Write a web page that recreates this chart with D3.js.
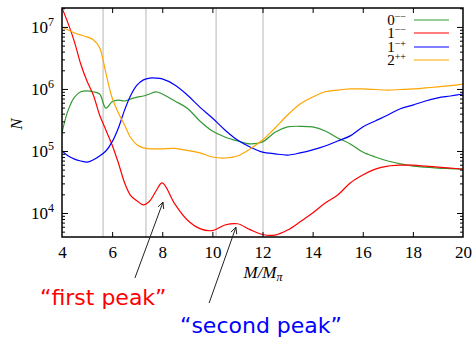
<!DOCTYPE html>
<html>
<head>
<meta charset="utf-8">
<script src="https://cdn.jsdelivr.net/npm/d3@7"></script>
<style>
  body { margin: 0; background: #fff; }
  svg { display: block; }
  .serif { font-family: "Liberation Serif", "DejaVu Serif", serif; }
  .sans { font-family: "DejaVu Sans", "Liberation Sans", sans-serif; }
</style>
</head>
<body>
<svg id="chart" width="474" height="342"></svg>
<script>
// mass grid M/M_pi (finer at low mass)
const M = [4, 4.25, 4.5, 4.75, 5, 5.25, 5.5, 5.75, 6, 6.25, 6.5, 6.75, 7, 7.25, 7.5, 7.75, 8,
  8.5, 9, 9.5, 10, 10.5, 11, 11.5, 12, 12.5, 13, 13.5, 14, 14.5, 15, 15.5, 16, 16.5, 17, 17.5,
  18, 18.5, 19, 19.5, 20];

// 0--
const n0mm = [2.0e5, 4.6e5, 7.4e5, 9.0e5, 9.3e5, 9.0e5, 8.3e5, 4.9e5, 6.2e5, 6.6e5, 6.4e5, 6.9e5,
  7.4e5, 7.7e5, 8.3e5, 9.0e5, 8.3e5, 6.4e5, 4.9e5, 3.05e5, 2.1e5, 1.68e5, 1.45e5, 1.3e5, 1.4e5,
  2.0e5, 2.44e5, 2.5e5, 2.44e5, 2.1e5, 1.62e5, 1.3e5, 9.6e4, 8.0e4, 6.9e4, 6.2e4, 5.7e4, 5.5e4,
  5.3e4, 5.2e4, 5.1e4];
// 1--
const n1mm = [2.02e7, 1.12e7, 5.7e6, 2.5e6, 1.33e6, 8.0e5, 3.8e5, 2.18e5, 1.25e5, 6.4e4, 3.05e4,
  1.88e4, 1.56e4, 1.35e4, 1.56e4, 2.26e4, 3.05e4, 1.4e4, 7.7e3, 5.6e3, 5.2e3, 6.4e3, 6.7e3,
  5.4e3, 4.5e3, 4.4e3, 5.3e3, 7.2e3, 1.0e4, 1.45e4, 1.95e4, 3.05e4, 4.1e4, 5.1e4, 5.7e4, 5.9e4,
  5.9e4, 5.7e4, 5.5e4, 5.3e4, 5.1e4];
// 1-+
const n1mp = [1.0e5, 8.3e4, 7.4e4, 6.9e4, 6.6e4, 7.2e4, 8.3e4, 1.0e5, 1.4e5, 2.35e5, 4.6e5, 8.0e5,
  1.16e6, 1.4e6, 1.5e6, 1.5e6, 1.45e6, 1.16e6, 8.0e5, 5.1e5, 3.4e5, 2.18e5, 1.5e5, 1.16e5, 9.6e4,
  9.0e4, 8.6e4, 9.3e4, 1.04e5, 1.2e5, 1.45e5, 1.75e5, 2.44e5, 3.05e5, 3.8e5, 4.8e5, 5.5e5, 6.4e5,
  7.2e5, 7.7e5, 8.3e5];
// 2++
const n2pp = [1.0e7, 8.9e6, 8.0e6, 7.4e6, 6.9e6, 6.2e6, 4.6e6, 1.81e6, 7.2e5, 4.1e5, 2.6e5, 1.62e5,
  1.25e5, 1.12e5, 1.08e5, 1.08e5, 1.08e5, 1.1e5, 1.02e5, 9.3e4, 8.0e4, 7.7e4, 8.3e4, 1.08e5, 1.5e5,
  2.35e5, 3.8e5, 5.7e5, 7.4e5, 9.0e5, 9.6e5, 1.0e6, 1.0e6, 9.8e5, 9.6e5, 9.8e5, 1.0e6, 1.04e6,
  1.08e6, 1.13e6, 1.2e6];

const seriesNames = ["0", "1", "1", "2"];
const seriesSups = ["\u2212\u2212", "\u2212\u2212", "\u2212+", "++"];
const seriesColors = ["#339933", "#ff0000", "#0000ff", "#ffa500"];
const seriesValues = [n0mm, n1mm, n1mp, n2pp];

// gray markers
const vLines = [5.64, 7.35, 10.15, 12.02];
const xTicks = [4, 6, 8, 10, 12, 14, 16, 18, 20];
const yMajor = [1e4, 1e5, 1e6, 1e7];

const dim = { left: 62, top: 8, right: 463, bottom: 237 };

const x = d3.scaleLinear().domain([4, 20]).range([dim.left, dim.right]);
const y = d3.scaleLog().domain([4100, 2.02e7]).range([dim.bottom, dim.top]);

const svg = d3.select("#chart");

svg.append("defs").append("clipPath").attr("id", "clip")
  .append("rect")
  .attr("x", dim.left).attr("y", dim.top)
  .attr("width", dim.right - dim.left).attr("height", dim.bottom - dim.top);

// vertical gray lines
svg.append("g").selectAll("line")
  .data(vLines).enter().append("line")
  .attr("x1", d => x(d)).attr("x2", d => x(d))
  .attr("y1", dim.top).attr("y2", dim.bottom)
  .attr("stroke", "#cccccc").attr("stroke-width", 1.4);

// curves
const line = d3.line()
  .x((d, i) => x(M[i]))
  .y(d => y(d))
  .curve(d3.curveCatmullRom.alpha(0.5));

svg.append("g").attr("clip-path", "url(#clip)")
  .selectAll("path")
  .data(seriesValues).enter().append("path")
  .attr("d", d => line(d))
  .attr("fill", "none")
  .attr("stroke", (d, i) => seriesColors[i])
  .attr("stroke-width", 1.2);

// axes: ticks pointing inward
const minorTicks = y.ticks().filter(v => !yMajor.includes(v));

function styleAxis(g) {
  g.select(".domain").remove();
  g.selectAll(".tick line").attr("stroke", "#000").attr("stroke-width", 1);
}

svg.append("g").attr("transform", `translate(${dim.left},0)`)
  .call(d3.axisLeft(y).tickValues(minorTicks).tickSize(-3).tickFormat(""))
  .call(styleAxis);
svg.append("g").attr("transform", `translate(${dim.right},0)`)
  .call(d3.axisRight(y).tickValues(minorTicks).tickSize(-3).tickFormat(""))
  .call(styleAxis);
svg.append("g").attr("transform", `translate(${dim.right},0)`)
  .call(d3.axisRight(y).tickValues(yMajor).tickSize(-6).tickFormat(""))
  .call(styleAxis);

const yAx = svg.append("g").attr("transform", `translate(${dim.left},0)`)
  .call(d3.axisLeft(y).tickValues(yMajor).tickSize(-6).tickPadding(8).tickFormat(""))
  .call(styleAxis);
yAx.selectAll(".tick text").each(function(d) {
  const t = d3.select(this)
    .attr("class", "serif")
    .attr("font-size", 17).attr("fill", "#000")
    .attr("dy", "0.32em");
  t.append("tspan").text("10");
  t.append("tspan").attr("font-size", 12).attr("dy", "-0.55em")
    .text(Math.round(Math.log10(d)));
});

const xAx = svg.append("g").attr("transform", `translate(0,${dim.bottom})`)
  .call(d3.axisBottom(x).tickValues(xTicks).tickSize(-5).tickPadding(8))
  .call(styleAxis);
xAx.selectAll(".tick text")
  .attr("class", "serif").attr("font-size", 17).attr("fill", "#000")
  .attr("dy", "0.75em");
xAx.selectAll(".tick")
  .filter(d => d === 4 || d === 20).select("line").remove();

svg.append("g").attr("transform", `translate(0,${dim.top})`)
  .call(d3.axisTop(x).tickValues(xTicks.slice(1, -1)).tickSize(-5).tickFormat(""))
  .call(styleAxis);

// frame
svg.append("rect")
  .attr("x", dim.left).attr("y", dim.top)
  .attr("width", dim.right - dim.left).attr("height", dim.bottom - dim.top)
  .attr("fill", "none").attr("stroke", "#000").attr("stroke-width", 1.5);

// axis titles
svg.append("text").attr("class", "serif")
  .attr("transform", "translate(22,124) rotate(-90)")
  .attr("text-anchor", "middle")
  .attr("font-size", 17).attr("font-style", "italic")
  .text("N");

const xt = svg.append("text").attr("class", "serif")
  .attr("x", 263).attr("y", 278)
  .attr("text-anchor", "middle")
  .attr("font-size", 17).attr("font-style", "italic");
xt.append("tspan").text("M/M");
xt.append("tspan").attr("font-size", 12).attr("dy", 3).text("\u03c0");

// legend
const legY = [20, 33, 47, 60];
const leg = svg.append("g").selectAll("g")
  .data(seriesNames).enter().append("g");
leg.append("line")
  .attr("x1", 414).attr("x2", 449)
  .attr("y1", (d, i) => legY[i]).attr("y2", (d, i) => legY[i])
  .attr("stroke", (d, i) => seriesColors[i]).attr("stroke-width", 1.2);
const legText = leg.append("text").attr("class", "serif")
  .attr("x", 406).attr("y", (d, i) => legY[i] + 5)
  .attr("text-anchor", "end")
  .attr("font-size", 15);
legText.append("tspan").text(d => d);
legText.append("tspan").attr("font-size", 10).attr("dy", -5)
  .text((d, i) => seriesSups[i]);

// annotations
const notes = [
  { text: "\u201cfirst peak\u201d", color: "#ff0000", tx: 40, ty: 305, from: [6.91, 896], to: [8.03, 1.5e4] },
  { text: "\u201csecond peak\u201d", color: "#0000ff", tx: 180, ty: 333, from: [9.87, 353], to: [10.94, 5.9e3] }
];

notes.forEach(n => {
  const x0 = x(n.from[0]), y0 = y(n.from[1]);
  const x1 = x(n.to[0]), y1 = y(n.to[1]);
  const ang = Math.atan2(y1 - y0, x1 - x0);
  const hl = 7, ha = 0.45;
  svg.append("line")
    .attr("x1", x0).attr("y1", y0).attr("x2", x1).attr("y2", y1)
    .attr("stroke", "#222").attr("stroke-width", 1);
  svg.append("path")
    .attr("d", `M${x1 - hl * Math.cos(ang - ha)},${y1 - hl * Math.sin(ang - ha)}
      L${x1},${y1}
      L${x1 - hl * Math.cos(ang + ha)},${y1 - hl * Math.sin(ang + ha)}`)
    .attr("fill", "none").attr("stroke", "#222").attr("stroke-width", 1);
  svg.append("text").attr("class", "sans")
    .attr("x", n.tx).attr("y", n.ty)
    .attr("font-size", 22).attr("fill", n.color)
    .text(n.text);
});
</script>
</body>
</html>
